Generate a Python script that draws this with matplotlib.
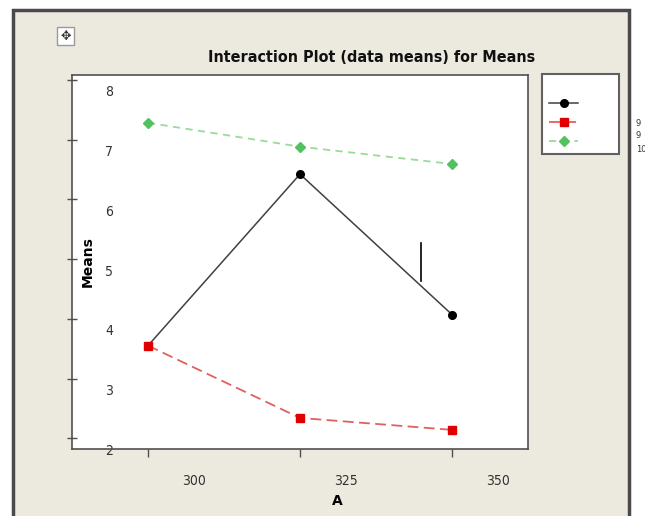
import matplotlib
matplotlib.use("Agg")
import matplotlib.pyplot as plt
from matplotlib.patches import Rectangle
from matplotlib.transforms import ScaledTranslation

# ---- data ----
levels_A = [300, 325, 350]
series_labels = ["9", "9", "10"]
means_black = [3.55, 6.42, 4.07]
means_red = [3.55, 2.34, 2.14]
means_green = [7.28, 6.88, 6.59]
y_ticks = [2, 3, 4, 5, 6, 7, 8]
x_ticks = [300, 325, 350]

W, H = 645, 516
fig = plt.figure(figsize=(W / 100, H / 100), dpi=100)
fig.patch.set_facecolor("white")

def fx(px):
    return px / W

def fy(py):
    return 1 - py / H

# window background with border
win = Rectangle((fx(13), fy(530)), fx(629) - fx(13), fy(10) - fy(530),
                transform=fig.transFigure, facecolor="#ECE9DF",
                edgecolor="#4a4a4a", linewidth=2.5, zorder=-2)
fig.patches.append(win)

# small move icon
icon = Rectangle((fx(57), fy(45)), fx(74) - fx(57), fy(27) - fy(45),
                 transform=fig.transFigure, facecolor="white",
                 edgecolor="#9a9a9a", linewidth=1, zorder=-1)
fig.patches.append(icon)
fig.text(fx(65.5), fy(36), "\u2725", ha="center", va="center",
         fontsize=9, color="#333333", family=["DejaVu Sans"])

ax = fig.add_axes([fx(72), fy(449), fx(528) - fx(72), fy(75) - fy(449)])
ax.set_zorder(1)
ax.set_facecolor("white")

ax.plot(levels_A, means_black, color="#404040", linewidth=1.1, marker="o",
        markersize=5.5, markerfacecolor="black", markeredgecolor="black",
        zorder=3, label=series_labels[0])
ax.plot(levels_A, means_red, color="#E06060", linewidth=1.3, linestyle=(0, (6, 3)),
        marker="s", markersize=5.5, markerfacecolor="#E00000",
        markeredgecolor="#E00000", zorder=4, label=series_labels[1])
ax.plot(levels_A, means_green, color="#98DC98", linewidth=1.3, linestyle=(0, (4, 3)),
        marker="D", markersize=5, markerfacecolor="#55C060",
        markeredgecolor="#55C060", zorder=3, label=series_labels[2])

ax.set_xlim(287.5, 362.5)
ax.set_ylim(1.82, 8.08)
ax.set_xticks(x_ticks)
ax.set_yticks(y_ticks)

for s in ax.spines.values():
    s.set_color("#505050")
    s.set_linewidth(1.2)

ax.tick_params(axis="x", direction="out", length=6, width=1, color="#505050",
               labelsize=10, labelcolor="#333333")
ax.tick_params(axis="y", direction="inout", length=7, width=1, color="#505050",
               labelsize=10, labelcolor="#333333")

for lab in ax.get_xticklabels():
    lab.set_fontstretch("condensed")
    lab.set_transform(lab.get_transform() +
                      ScaledTranslation(0.46, -0.12, fig.dpi_scale_trans))
for lab in ax.get_yticklabels():
    lab.set_fontstretch("condensed")
    lab.set_horizontalalignment("center")
    lab.set_transform(lab.get_transform() +
                      ScaledTranslation(0.47, -0.11, fig.dpi_scale_trans))

ax.set_xlabel("A", fontsize=10, fontweight="bold")
ax.set_ylabel("Means", fontsize=10, fontweight="bold")
ax.xaxis.set_label_coords(0.582, -0.119)
ax.yaxis.set_label_coords(0.050, 0.5)

fig.text(fx(372), fy(58), "Interaction Plot (data means) for Means",
         ha="center", va="center", fontsize=11.5, fontweight="bold",
         fontstretch="condensed", color="#111111")

# cursor-like artifact
ax.plot([0.765, 0.765], [0.45, 0.55], transform=ax.transAxes,
        color="black", linewidth=1.2, zorder=5)

# legend (labels overflow outside the box)
handles, labels = ax.get_legend_handles_labels()
leg = fig.legend(handles, [""] * 3, loc="upper left",
                 bbox_to_anchor=(fx(542), fy(74)), frameon=True,
                 fancybox=False, shadow=False, fontsize=8, title=" ",
                 title_fontsize=6, handlelength=2.6, labelspacing=0.8,
                 borderpad=0.65, handletextpad=3.05, borderaxespad=0,
                 markerscale=1.0, framealpha=1)
leg.get_frame().set_edgecolor("#606060")
leg.get_frame().set_linewidth(1.5)
leg.get_frame().set_facecolor("white")
leg.set_zorder(2)

for lbl, py in zip(series_labels, [123, 135, 149]):
    fig.text(fx(636), fy(py), lbl, fontsize=6, ha="left", va="center",
             color="#333333")

fig.savefig("out.png", dpi=100, facecolor=fig.get_facecolor())
